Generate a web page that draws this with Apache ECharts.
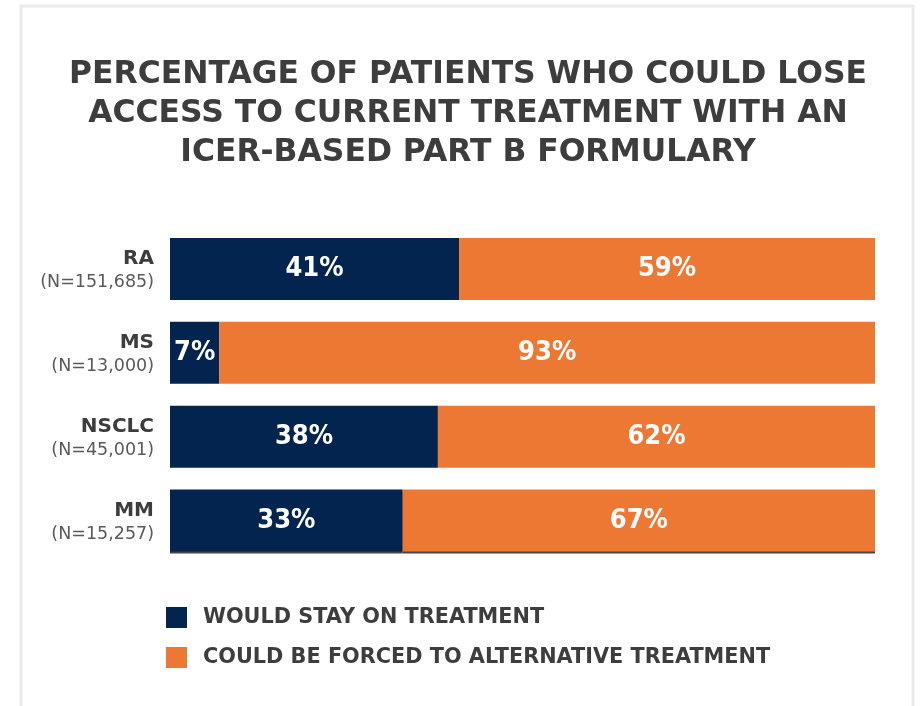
<!DOCTYPE html>
<html>
<head>
<meta charset="utf-8">
<script src="https://cdn.jsdelivr.net/npm/echarts@6/dist/echarts.min.js"></script>
<style>html,body{margin:0;padding:0;background:#fff;}#c{width:922px;height:706px;}</style>
</head>
<body>
<div id="c"></div>
<script>
var titleText = 'PERCENTAGE OF PATIENTS WHO COULD LOSE\nACCESS TO CURRENT TREATMENT WITH AN\nICER-BASED PART B FORMULARY';
var categories = ['RA', 'MS', 'NSCLC', 'MM'];
var sampleSizes = ['(N=151,685)', '(N=13,000)', '(N=45,001)', '(N=15,257)'];
var stayValues = [41, 7, 38, 33];
var forcedValues = [59, 93, 62, 67];
var seriesNames = ['WOULD STAY ON TREATMENT', 'COULD BE FORCED TO ALTERNATIVE TREATMENT'];

var NAVY = '#03244f', ORANGE = '#ed7833';

function mkData(vals) {
  return vals.map(function (v, i) {
    var d = { value: v };
    if (i === vals.length - 1) {
      d.itemStyle = { shadowColor: 'rgba(50,50,50,0.9)', shadowOffsetY: 2, shadowBlur: 0 };
    }
    return d;
  });
}

var chart = echarts.init(document.getElementById('c'));
var labelStyle = {
  show: true, position: 'inside', color: '#fff',
  fontFamily: '"Liberation Sans Narrow", "DejaVu Sans Condensed", "Roboto Condensed", "Noto Sans", sans-serif',
  fontWeight: 'bold', fontSize: 27,
  formatter: '{c}%'
};
chart.setOption({
  animation: false,
  graphic: [{
    type: 'rect', shape: { x: 21, y: 6, width: 892, height: 760 },
    style: { fill: 'none', stroke: '#ebebeb', lineWidth: 3 }, silent: true
  }],
  title: {
    text: titleText, left: 463, top: 50, textAlign: 'center',
    textStyle: { fontFamily: 'DejaVu Sans', fontWeight: 'bold', fontSize: 31.4, lineHeight: 39, color: '#3d3d3d' }
  },
  legend: {
    orient: 'vertical', left: 161, top: 602, itemWidth: 21, itemHeight: 21, itemGap: 19,
    icon: 'rect',
    textStyle: { fontFamily: 'DejaVu Sans', fontWeight: 'bold', fontSize: 20.8, color: '#3d3d3d', padding: [0, 0, 0, 11] },
    data: seriesNames
  },
  grid: { left: 170, right: 47, top: 227, bottom: 143.5, containLabel: false },
  xAxis: { type: 'value', min: 0, max: 100, show: false },
  yAxis: {
    type: 'category', data: categories, inverse: true,
    axisLine: { show: false }, axisTick: { show: false },
    axisLabel: {
      margin: 16,
      formatter: function (v, i) { return '{a|' + v + '}\n{b|' + sampleSizes[i] + '}'; },
      rich: {
        a: { fontFamily: 'DejaVu Sans', fontWeight: 'bold', fontSize: 20, color: '#3d3d3d', lineHeight: 28, align: 'right' },
        b: { fontFamily: 'DejaVu Sans', fontSize: 17.5, color: '#5a5a5a', lineHeight: 20, align: 'right' }
      }
    }
  },
  series: [
    { name: seriesNames[0], type: 'bar', stack: 'total', barWidth: 62, data: mkData(stayValues),
      itemStyle: { color: NAVY }, label: labelStyle },
    { name: seriesNames[1], type: 'bar', stack: 'total', barWidth: 62, data: mkData(forcedValues),
      itemStyle: { color: ORANGE }, label: labelStyle }
  ]
});
</script>
</body>
</html>
